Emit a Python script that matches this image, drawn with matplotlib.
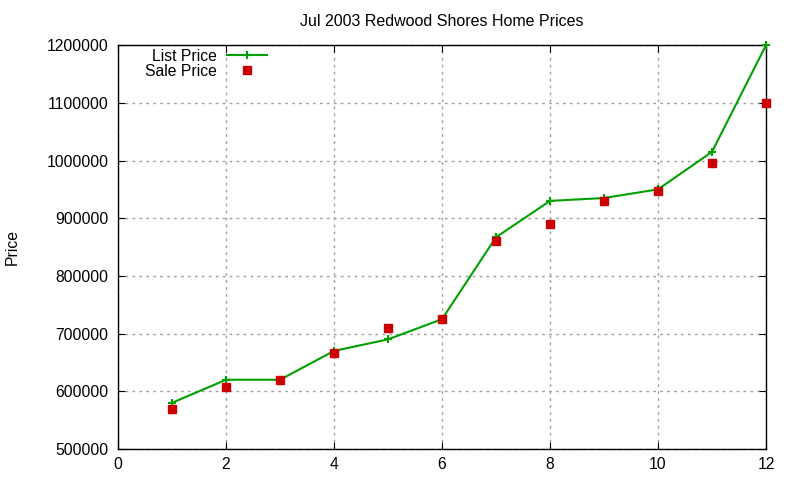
import numpy as np
import matplotlib.pyplot as plt

# Données
months = [1, 2, 3, 4, 5, 6, 7, 8, 9, 10, 11, 12]
list_price = [580000, 620000, 620000, 670000, 690000, 725000,
              867000, 930000, 935000, 950000, 1015000, 1200000]
sale_price = [570000, 607000, 620000, 666000, 710000, 725000,
              860000, 890000, 930000, 947000, 995000, 1100000]

plt.rcParams['font.family'] = ['Liberation Sans', 'DejaVu Sans']
plt.rcParams['font.size'] = 11.3

fig = plt.figure(figsize=(8, 4.8), dpi=100)
ax = fig.add_axes([0.1475, 0.0646, 0.81, 0.8414])

ax.plot(months, list_price, color='#00a000', lw=1.5, marker='+', ms=6, mew=1.5,
        label='List Price', clip_on=False, zorder=3)
ax.plot(months, sale_price, ls='none', color='#cc0000', marker='s', ms=6,
        label='Sale Price', clip_on=False, zorder=3)

ax.set_xlim(0, 12)
ax.set_ylim(500000, 1200000)
ax.set_xticks(np.arange(0, 13, 2))
ax.set_yticks(np.arange(500000, 1200001, 100000))
ax.ticklabel_format(style='plain', axis='y')
ax.tick_params(direction='in', top=True, right=True, length=5)
ax.tick_params(axis='y', pad=7)
ax.tick_params(axis='x', pad=6)
ax.grid(True, ls=(0, (2, 3)), color='#a0a0a0', lw=1)
for s in ax.spines.values():
    s.set_linewidth(1)

ax.set_title('Jul 2003 Redwood Shores Home Prices', fontsize=11.5, pad=14)
ax.set_ylabel('Price')
ax.yaxis.set_label_coords(-0.152, 0.5)

leg = ax.legend(loc='upper left', bbox_to_anchor=(0.042, 0.991), markerfirst=False,
                frameon=False, handlelength=2.6, handletextpad=0.6,
                labelspacing=0.0, borderpad=0, borderaxespad=0, fontsize=11.3)
for t in leg.get_texts():
    t.set_ha('right')

fig.savefig('out.png')
